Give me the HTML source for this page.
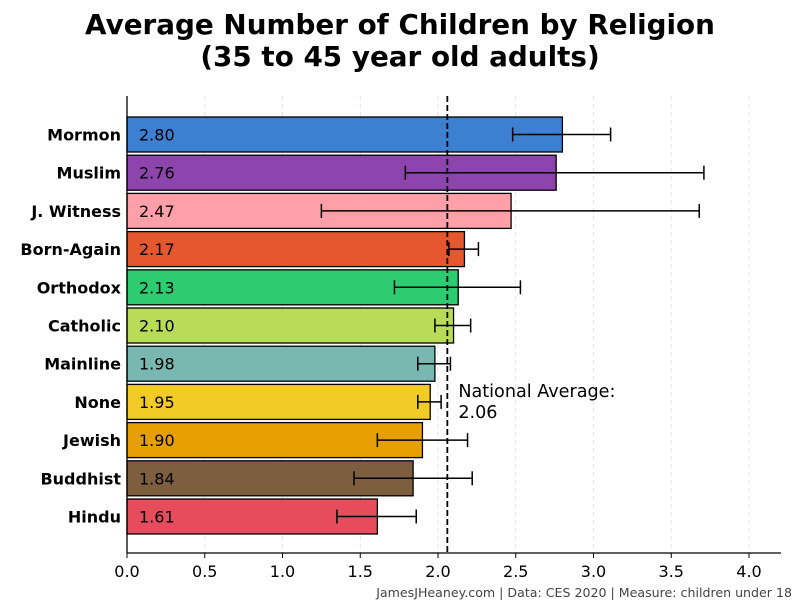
<!DOCTYPE html>
<html><head><meta charset="utf-8"><style>
body{margin:0;background:#fff;}
svg{display:block;font-family:"DejaVu Sans","Liberation Sans",sans-serif;}
</style></head><body>
<svg id="chart" width="800" height="600">
<text x="400" y="34" text-anchor="middle" font-size="27.8" font-weight="bold">Average Number of Children by Religion</text>
<text x="400" y="66" text-anchor="middle" font-size="27.8" font-weight="bold">(35 to 45 year old adults)</text>
<g id="grid"></g><g id="bars"></g><g id="axes"></g>
<text x="792" y="597" text-anchor="end" font-size="12.6" fill="#444">JamesJHeaney.com | Data: CES 2020 | Measure: children under 18</text>
</svg>
<script>
const categories=["Mormon","Muslim","J. Witness","Born-Again","Orthodox","Catholic","Mainline","None","Jewish","Buddhist","Hindu"];
const values=[2.80,2.76,2.47,2.17,2.13,2.10,1.98,1.95,1.90,1.84,1.61];
const errLow=[2.48,1.79,1.25,2.07,1.72,1.98,1.87,1.87,1.61,1.46,1.35];
const errHigh=[3.11,3.71,3.68,2.26,2.53,2.21,2.08,2.02,2.19,2.22,1.86];
const colors=["#3d7fd1","#8e44ad","#ff9fa8","#e5572f","#2ecc71","#b8dc58","#78b8b0","#f2cb27","#e5a000","#7d5f40","#e64c5c"];
const xTicks=[0,0.5,1,1.5,2,2.5,3,3.5,4];
const nationalAvg=2.06;
const NS="http://www.w3.org/2000/svg";
const x0=127,pxU=155.5,top0=96,bot=553,y0=134.5,step=38.2,bh=35;
const X=v=>x0+v*pxU, Y=i=>y0+i*step;
function mk(p,t,a){const e=document.createElementNS(NS,t);for(const k in a)e.setAttribute(k,a[k]);p.appendChild(e);return e;}
const grid=document.getElementById('grid'),bars=document.getElementById('bars'),axes=document.getElementById('axes');
xTicks.forEach(t=>{
 const g=mk(grid,'line',{x1:X(t),x2:X(t),y1:top0,y2:bot,stroke:'#ddd','stroke-dasharray':'4,4','stroke-width':0.8});
 
 
 const tk=mk(axes,'line',{x1:X(t),x2:X(t),y1:bot,y2:bot+5,stroke:'#000'});
 
 
 const l=mk(axes,'text',{x:X(t),y:bot+24,'text-anchor':'middle','font-size':16});
 l.textContent=t.toFixed(1);
 
 
});
categories.forEach((c,i)=>{
 const y=Y(i);
 const r=mk(bars,'rect',{x:x0,y:y-bh/2,width:X(values[i])-x0,height:bh,fill:colors[i],stroke:'#000','stroke-width':1.3});
 
 
 const vt=mk(bars,'text',{x:x0+12,y:y+6,'font-size':16});
 vt.textContent=values[i].toFixed(2);
 
 
 const eg=mk(bars,'g',{stroke:'#000','stroke-width':1.5});
 
 
 mk(eg,'line',{x1:X(errLow[i]),x2:X(errHigh[i]),y1:y,y2:y});
 mk(eg,'line',{x1:X(errLow[i]),x2:X(errLow[i]),y1:y-7,y2:y+7});
 mk(eg,'line',{x1:X(errHigh[i]),x2:X(errHigh[i]),y1:y-7,y2:y+7});
 const cl=mk(axes,'text',{x:x0-6,y:y+6,'text-anchor':'end','font-size':16,'font-weight':'bold'});
 cl.textContent=c;
 
 
});
const av=mk(bars,'line',{x1:X(nationalAvg),x2:X(nationalAvg),y1:top0,y2:bot,stroke:'#000','stroke-width':1.8,'stroke-dasharray':'6,3'});


const at=mk(bars,'text',{x:X(nationalAvg)+11,y:397,'font-size':17.6});
at.textContent='National Average:';


const at2=mk(bars,'text',{x:X(nationalAvg)+11,y:418,'font-size':17.6});
at2.textContent=nationalAvg.toFixed(2);


const ya=mk(axes,'line',{x1:x0,x2:x0,y1:top0,y2:bot,stroke:'#000','stroke-width':1.3});


const xa=mk(axes,'line',{x1:x0,x2:781,y1:bot,y2:bot,stroke:'#000','stroke-width':1.3});


</script>
</body></html>
